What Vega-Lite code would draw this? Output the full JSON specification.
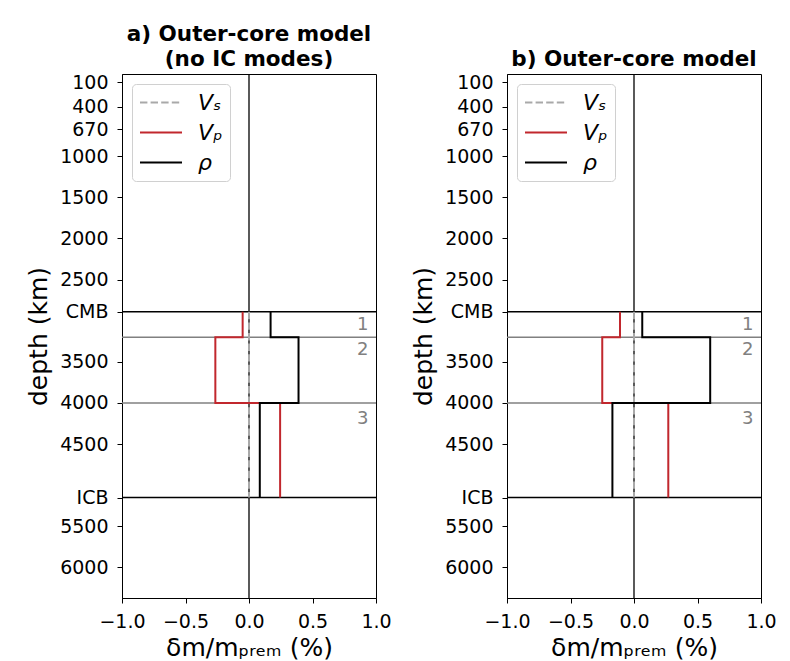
{
  "$schema": "https://vega.github.io/schema/vega-lite/v6.json",
  "background": "white",
  "padding": {"left": 26, "top": 23, "right": 5, "bottom": 5},
  "config": {
    "font": "DejaVu Sans",
    "view": {"stroke": "black", "strokeWidth": 1},
    "axis": {
      "grid": false,
      "domainColor": "black",
      "tickColor": "black",
      "labelColor": "black",
      "titleColor": "black",
      "labelFont": "DejaVu Sans",
      "titleFont": "DejaVu Sans",
      "titleFontWeight": "normal",
      "labelFontSize": 19,
      "titleFontSize": 25,
      "tickSize": 5,
      "labelPadding": 9,
      "labelOverlap": false,
      "labelFlush": false
    },
    "axisX": {"titlePadding": 4},
    "axisY": {"titlePadding": 8},
    "title": {"font": "DejaVu Sans", "fontSize": 21.5, "fontWeight": "bold", "anchor": "middle", "offset": 3, "lineHeight": 25},
    "legend": {
      "orient": "top-left",
      "offset": 10,
      "padding": 7,
      "strokeColor": "#d0d0d0",
      "cornerRadius": 4,
      "fillColor": "white",
      "symbolType": "M-1,0H3",
      "symbolSize": 441,
      "symbolStrokeWidth": 2,
      "labelFont": "DejaVu Sans",
      "labelFontSize": 22,
      "labelFontStyle": "italic",
      "labelOffset": 36,
      "rowPadding": 7
    }
  },
  "datasets": {
    "profiles": [
      {"panel": "a", "param": "Vₛ", "i": 0, "dm": 0, "depth": 2891},
      {"panel": "a", "param": "Vₛ", "i": 1, "dm": 0, "depth": 5150},
      {"panel": "a", "param": "Vₚ", "i": 0, "dm": -0.05, "depth": 2891},
      {"panel": "a", "param": "Vₚ", "i": 1, "dm": -0.05, "depth": 3200},
      {"panel": "a", "param": "Vₚ", "i": 2, "dm": -0.265, "depth": 3200},
      {"panel": "a", "param": "Vₚ", "i": 3, "dm": -0.265, "depth": 4000},
      {"panel": "a", "param": "Vₚ", "i": 4, "dm": 0.245, "depth": 4000},
      {"panel": "a", "param": "Vₚ", "i": 5, "dm": 0.245, "depth": 5150},
      {"panel": "a", "param": "ρ", "i": 0, "dm": 0.17, "depth": 2891},
      {"panel": "a", "param": "ρ", "i": 1, "dm": 0.17, "depth": 3200},
      {"panel": "a", "param": "ρ", "i": 2, "dm": 0.39, "depth": 3200},
      {"panel": "a", "param": "ρ", "i": 3, "dm": 0.39, "depth": 4000},
      {"panel": "a", "param": "ρ", "i": 4, "dm": 0.085, "depth": 4000},
      {"panel": "a", "param": "ρ", "i": 5, "dm": 0.085, "depth": 5150},
      {"panel": "b", "param": "Vₛ", "i": 0, "dm": 0, "depth": 2891},
      {"panel": "b", "param": "Vₛ", "i": 1, "dm": 0, "depth": 5150},
      {"panel": "b", "param": "Vₚ", "i": 0, "dm": -0.11, "depth": 2891},
      {"panel": "b", "param": "Vₚ", "i": 1, "dm": -0.11, "depth": 3200},
      {"panel": "b", "param": "Vₚ", "i": 2, "dm": -0.25, "depth": 3200},
      {"panel": "b", "param": "Vₚ", "i": 3, "dm": -0.25, "depth": 4000},
      {"panel": "b", "param": "Vₚ", "i": 4, "dm": 0.27, "depth": 4000},
      {"panel": "b", "param": "Vₚ", "i": 5, "dm": 0.27, "depth": 5150},
      {"panel": "b", "param": "ρ", "i": 0, "dm": 0.065, "depth": 2891},
      {"panel": "b", "param": "ρ", "i": 1, "dm": 0.065, "depth": 3200},
      {"panel": "b", "param": "ρ", "i": 2, "dm": 0.6, "depth": 3200},
      {"panel": "b", "param": "ρ", "i": 3, "dm": 0.6, "depth": 4000},
      {"panel": "b", "param": "ρ", "i": 4, "dm": -0.17, "depth": 4000},
      {"panel": "b", "param": "ρ", "i": 5, "dm": -0.17, "depth": 5150}
    ],
    "zero": [{"dm": 0}],
    "boundaries": [
      {"depth": 2891, "kind": "major"},
      {"depth": 3200, "kind": "minor"},
      {"depth": 4000, "kind": "minor"},
      {"depth": 5150, "kind": "major"}
    ],
    "layers": [
      {"label": "1", "dm": 0.94, "depth": 3050},
      {"label": "2", "dm": 0.94, "depth": 3353},
      {"label": "3", "dm": 0.94, "depth": 4200}
    ]
  },
  "hconcat": [
    {
      "title": {"text": ["a) Outer-core model", "(no IC modes)"]},
      "width": 254,
      "height": 524,
      "layer": [
        {
          "data": {"name": "zero"},
          "mark": {"type": "rule", "color": "black", "strokeWidth": 1.3},
          "encoding": {"x": {"field": "dm", "type": "quantitative"}}
        },
        {
          "data": {"name": "boundaries"},
          "transform": [{"filter": "datum.kind == 'major'"}],
          "mark": {"type": "rule", "color": "black", "strokeWidth": 1.5},
          "encoding": {"y": {"field": "depth", "type": "quantitative"}}
        },
        {
          "data": {"name": "boundaries"},
          "transform": [{"filter": "datum.kind == 'minor'"}],
          "mark": {"type": "rule", "color": "#808080", "strokeWidth": 1.5},
          "encoding": {"y": {"field": "depth", "type": "quantitative"}}
        },
        {
          "data": {"name": "profiles"},
          "transform": [{"filter": "datum.panel == 'a'"}],
          "mark": {"type": "line", "strokeWidth": 2, "strokeCap": "butt"},
          "encoding": {
            "x": {"field": "dm", "type": "quantitative", "scale": {"domain": [-1, 1], "nice": false},
                  "axis": {"values": [-1, -0.5, 0, 0.5, 1], "format": ".1f", "title": "δm/mₚᵣₑₘ (%)"}},
            "y": {"field": "depth", "type": "quantitative",
                  "scale": {"domain": [0, 6371], "reverse": true, "nice": false, "zero": false},
                  "axis": {"values": [100, 400, 670, 1000, 1500, 2000, 2500, 2891, 3500, 4000, 4500, 5150, 5500, 6000],
                           "format": "d",
                           "labelExpr": "datum.value == 2891 ? 'CMB' : datum.value == 5150 ? 'ICB' : datum.label",
                           "title": "depth (km)"}},
            "color": {"field": "param", "type": "nominal",
                      "scale": {"domain": ["Vₛ", "Vₚ", "ρ"], "range": ["#a9a9a9", "#c1272d", "black"]},
                      "legend": {"title": null}},
            "strokeDash": {"field": "param", "type": "nominal",
                           "scale": {"domain": ["Vₛ", "Vₚ", "ρ"], "range": [[7.4, 3.2], [1, 0], [1, 0]]},
                           "legend": {"title": null}},
            "order": {"field": "i", "type": "quantitative"}
          }
        },
        {
          "data": {"name": "layers"},
          "mark": {"type": "text", "color": "#808080", "fontSize": 18, "align": "right", "baseline": "middle"},
          "encoding": {
            "x": {"field": "dm", "type": "quantitative"},
            "y": {"field": "depth", "type": "quantitative"},
            "text": {"field": "label"}
          }
        }
      ]
    },
    {
      "title": {"text": "b) Outer-core model"},
      "width": 254,
      "height": 524,
      "layer": [
        {
          "data": {"name": "zero"},
          "mark": {"type": "rule", "color": "black", "strokeWidth": 1.3},
          "encoding": {"x": {"field": "dm", "type": "quantitative"}}
        },
        {
          "data": {"name": "boundaries"},
          "transform": [{"filter": "datum.kind == 'major'"}],
          "mark": {"type": "rule", "color": "black", "strokeWidth": 1.5},
          "encoding": {"y": {"field": "depth", "type": "quantitative"}}
        },
        {
          "data": {"name": "boundaries"},
          "transform": [{"filter": "datum.kind == 'minor'"}],
          "mark": {"type": "rule", "color": "#808080", "strokeWidth": 1.5},
          "encoding": {"y": {"field": "depth", "type": "quantitative"}}
        },
        {
          "data": {"name": "profiles"},
          "transform": [{"filter": "datum.panel == 'b'"}],
          "mark": {"type": "line", "strokeWidth": 2, "strokeCap": "butt"},
          "encoding": {
            "x": {"field": "dm", "type": "quantitative", "scale": {"domain": [-1, 1], "nice": false},
                  "axis": {"values": [-1, -0.5, 0, 0.5, 1], "format": ".1f", "title": "δm/mₚᵣₑₘ (%)"}},
            "y": {"field": "depth", "type": "quantitative",
                  "scale": {"domain": [0, 6371], "reverse": true, "nice": false, "zero": false},
                  "axis": {"values": [100, 400, 670, 1000, 1500, 2000, 2500, 2891, 3500, 4000, 4500, 5150, 5500, 6000],
                           "format": "d",
                           "labelExpr": "datum.value == 2891 ? 'CMB' : datum.value == 5150 ? 'ICB' : datum.label",
                           "title": "depth (km)"}},
            "color": {"field": "param", "type": "nominal",
                      "scale": {"domain": ["Vₛ", "Vₚ", "ρ"], "range": ["#a9a9a9", "#c1272d", "black"]},
                      "legend": {"title": null}},
            "strokeDash": {"field": "param", "type": "nominal",
                           "scale": {"domain": ["Vₛ", "Vₚ", "ρ"], "range": [[7.4, 3.2], [1, 0], [1, 0]]},
                           "legend": {"title": null}},
            "order": {"field": "i", "type": "quantitative"}
          }
        },
        {
          "data": {"name": "layers"},
          "mark": {"type": "text", "color": "#808080", "fontSize": 18, "align": "right", "baseline": "middle"},
          "encoding": {
            "x": {"field": "dm", "type": "quantitative"},
            "y": {"field": "depth", "type": "quantitative"},
            "text": {"field": "label"}
          }
        }
      ]
    }
  ],
  "bounds": "flush",
  "spacing": 131,
  "resolve": {"legend": {"color": "independent", "strokeDash": "independent"}, "scale": {"color": "independent", "strokeDash": "independent"}}
}
